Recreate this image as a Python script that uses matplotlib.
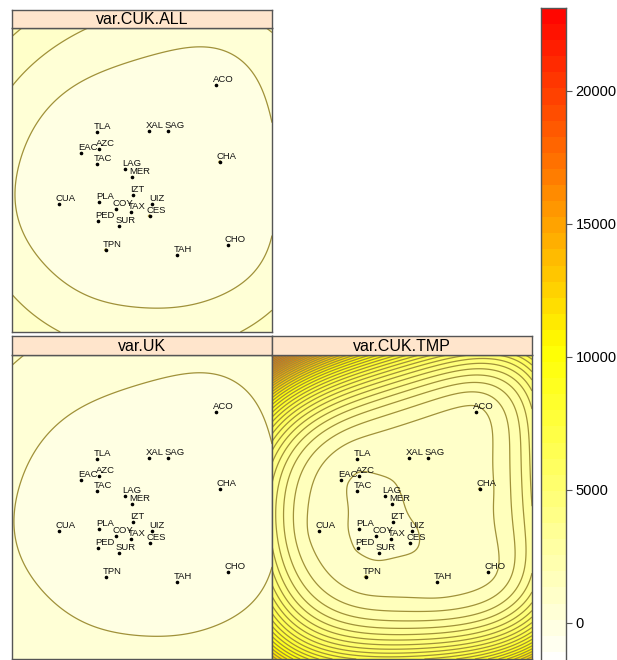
import numpy as np
import matplotlib
matplotlib.use("Agg")
from matplotlib import pyplot as plt
from matplotlib.colors import LinearSegmentedColormap, BoundaryNorm, ListedColormap

plt.rcParams['font.family'] = ['Liberation Sans', 'DejaVu Sans']

# stations (km, map coords)
stations = ['ACO', 'TLA', 'XAL', 'SAG', 'EAC', 'AZC', 'TAC', 'CHA', 'LAG', 'MER', 'IZT',
            'CUA', 'PLA', 'COY', 'UIZ', 'TAX', 'CES', 'PED', 'SUR', 'TPN', 'TAH', 'CHO']
st_x = np.array([20.4, 8.5, 13.7, 15.6, 6.9, 8.7, 8.5, 20.8, 11.3, 12.0, 12.1,
                 4.7, 8.7, 10.4, 14.0, 11.9, 13.8, 8.6, 10.7, 9.4, 16.5, 21.6])
st_y = np.array([24.7, 20.0, 20.1, 20.1, 17.9, 18.3, 16.8, 17.0, 16.3, 15.5, 13.7,
                 12.8, 13.0, 12.3, 12.8, 12.0, 11.6, 11.1, 10.6, 8.2, 7.7, 8.7])

# map extent
x_min, x_max = 0.0, 26.0
y_min, y_max = 0.0, 30.4

# variogram shape per panel: nugget, partial sill, range, trend order
panels = ['var.CUK.ALL', 'var.UK', 'var.CUK.TMP']
nuggets = [1.0, 1.0, 1.0]
psills = [3.0, 3.0, 0.45]
ranges = [20.0, 20.0, 8.0]
orders = [1, 1, 2]
# variance at two spots of each panel: (x, y, value)
anchor_in = [(0.3, 14.2, 120.0), (0.2, 14.4, 120.0), (7.6, 14.2, 725.0)]
anchor_nw = [(0.0, 30.4, 1450.0), (0.0, 30.4, 800.0), (0.0, 30.4, 22800.0)]

# colour key
z_lo, z_hi = -2300.0, 23100.0
n_cuts = 42
key_ticks = [0, 5000, 10000, 15000, 20000]


def trend_basis(x, y, order):
    cols = [np.ones_like(x), x - 12.0, y - 15.0]
    if order == 2:
        cols += [(x - 12.0) ** 2, (x - 12.0) * (y - 15.0), (y - 15.0) ** 2]
    return np.stack(cols, axis=-1)


def kriging_variance(px, py, nug, ps, rg, order):
    def vgm(h):
        return np.where(h > 0, nug + ps * (1 - np.exp(-h / rg)), 0.0)
    d = np.hypot(st_x[:, None] - st_x[None, :], st_y[:, None] - st_y[None, :])
    F = trend_basis(st_x, st_y, order)
    n, p = F.shape
    A = np.zeros((n + p, n + p))
    A[:n, :n] = vgm(d)
    A[:n, n:] = F
    A[n:, :n] = F.T
    g0 = vgm(np.hypot(px[None, :] - st_x[:, None], py[None, :] - st_y[:, None]))
    b = np.vstack([g0, trend_basis(px, py, order).T])
    w = np.linalg.solve(A, b)
    return (w * b).sum(axis=0)


gx, gy = np.meshgrid(np.linspace(x_min, x_max, 131), np.linspace(y_min, y_max, 153))
fields = []
for i in range(3):
    v = kriging_variance(gx.ravel(), gy.ravel(), nuggets[i], psills[i], ranges[i], orders[i])
    ax_, ay_ = np.array([anchor_in[i][0], anchor_nw[i][0]]), np.array([anchor_in[i][1], anchor_nw[i][1]])
    va = kriging_variance(ax_, ay_, nuggets[i], psills[i], ranges[i], orders[i])
    scale = (anchor_nw[i][2] - anchor_in[i][2]) / (va[1] - va[0])
    fields.append((anchor_in[i][2] + (v - va[0]) * scale).reshape(gx.shape))

levels = np.linspace(z_lo, z_hi, n_cuts + 1)
cmap = LinearSegmentedColormap.from_list(
    'wyr', [(0.0, (1, 1, 1)), ((-1500 - z_lo) / (z_hi - z_lo), (1, 1, 1)),
            ((10300 - z_lo) / (z_hi - z_lo), (1, 1, 0)), (1.0, (1, 0, 0))])
band_cols = cmap(((levels[:-1] + levels[1:]) / 2 - z_lo) / (z_hi - z_lo))
norm = BoundaryNorm(levels, n_cuts)

W, H = 617, 660
fig = plt.figure(figsize=(W / 100, H / 100), dpi=100)


def box(x0, y0, x1, y1):
    return [x0 / W, 1 - y1 / H, (x1 - x0) / W, (y1 - y0) / H]


edge = '#555555'
line_col = '#a0913a'
# (plot box, strip box) in pixels
boxes = [((12, 28, 272, 332), (12, 10, 272, 28)),
         ((12, 355, 272, 659), (12, 336, 272, 355)),
         ((272, 355, 532, 659), (272, 336, 532, 355))]

for i, (pb, sb) in enumerate(boxes):
    ax = fig.add_axes(box(*pb))
    z = np.clip(fields[i], z_lo + 1, z_hi - 1)
    ax.contourf(gx, gy, z, levels=levels, colors=band_cols)
    ax.contour(gx, gy, z, levels=levels, colors=line_col, linewidths=0.9)
    ax.plot(st_x, st_y, 'o', ms=1.6, color='black')
    for s, x, y in zip(stations, st_x, st_y):
        ax.annotate(s, (x, y), xytext=(-2.3, 0.8), textcoords='offset points',
                    ha='left', va='bottom', fontsize=6.8, color='#111111')
    ax.set_xlim(x_min, x_max)
    ax.set_ylim(y_min, y_max)
    ax.set_xticks([])
    ax.set_yticks([])
    for sp in ax.spines.values():
        sp.set_color(edge)
        sp.set_linewidth(1.0)

    sax = fig.add_axes(box(*sb))
    sax.set_facecolor('#ffe5cc')
    sax.set_xticks([])
    sax.set_yticks([])
    for sp in sax.spines.values():
        sp.set_color(edge)
        sp.set_linewidth(1.0)
    sax.text(0.5, 0.45, panels[i], ha='center', va='center', fontsize=11.5,
             transform=sax.transAxes)

# colour key, runs past the bottom edge like the original
kax = fig.add_axes(box(541, 8, 566, 684))
kax.pcolormesh([0, 1], levels, np.array([(levels[:-1] + levels[1:]) / 2]).T,
               cmap=ListedColormap(band_cols), norm=norm)
kax.set_ylim(z_lo, z_hi)
kax.set_xlim(0, 1)
kax.set_xticks([])
kax.yaxis.tick_right()
kax.set_yticks(key_ticks)
kax.set_yticklabels([str(t) for t in key_ticks])
kax.tick_params(axis='y', length=4, width=0.8, color=edge, labelsize=10.5, pad=3)
for sp in kax.spines.values():
    sp.set_color(edge)
    sp.set_linewidth(1.0)

fig.savefig('out.png', dpi=100)
